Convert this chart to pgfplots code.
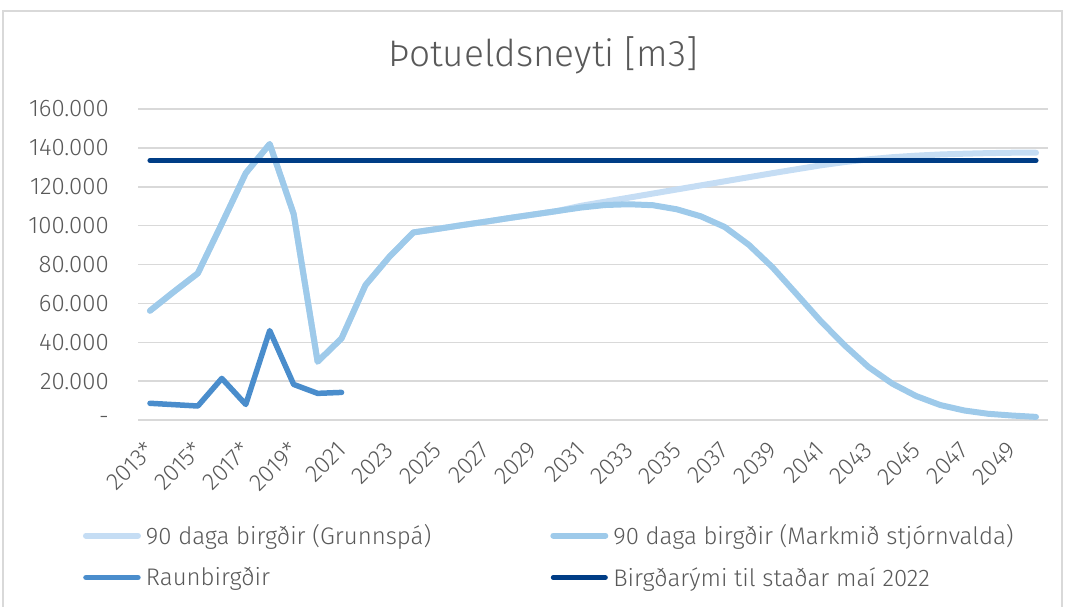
\documentclass[border=0pt]{standalone}
\usepackage{fontspec}
\setmainfont{Fira Sans}[UprightFont={* Light}]
\usepackage{pgfplots}
\pgfplotsset{compat=1.18}

\definecolor{grunn}{RGB}{197,221,244}
\definecolor{markmid}{RGB}{158,202,234}
\definecolor{raun}{RGB}{74,141,204}
\definecolor{rymi}{RGB}{0,61,134}
\definecolor{txt}{RGB}{89,89,89}
\definecolor{gridgray}{RGB}{217,217,217}

\begin{document}
\begin{tikzpicture}
\useasboundingbox (0pt,0pt) rectangle (1068pt,606pt);
\draw[gridgray, line width=1.5pt] (3pt,-5pt) -- (3pt,595pt) -- (1062pt,595pt) -- (1062pt,-5pt);
\node[text=txt, font=\fontsize{37}{40}\selectfont] at (543pt,551pt) {Þotueldsneyti [m3]};

\begin{axis}[
  at={(138pt,186pt)}, anchor=south west,
  scale only axis, width=910pt, height=311pt,
  xmin=2012.5, xmax=2050.5,
  ymin=0, ymax=160000,
  axis line style={draw=none},
  major tick length=0pt,
  ymajorgrids=true, xmajorgrids=false,
  grid style={gridgray, line width=1.5pt},
  ytick={0,20000,40000,60000,80000,100000,120000,140000,160000},
  yticklabels={-,20.000,40.000,60.000,80.000,100.000,120.000,140.000,160.000},
  scaled y ticks=false,
  xtick={2013,2015,...,2049},
  xticklabels={2013*,2015*,2017*,2019*,2021,2023,2025,2027,2029,2031,2033,2035,2037,2039,2041,2043,2045,2047,2049},
  tick label style={text=txt, font=\fontsize{24}{26}\selectfont},
  yticklabel style={anchor=east, inner sep=0pt},
  yticklabel shift=29pt,
  xticklabel style={rotate=45, anchor=east, inner sep=0pt},
  xticklabel shift=26pt,
  legend columns=2,
  legend cell align=left,
  legend style={at={(rel axis cs:-0.064,-0.33)}, anchor=north west,
    draw=none, fill=none, text=txt, font=\fontsize{24}{26}\selectfont,
    nodes={inner sep=0pt}, row sep=21pt,
    /tikz/every odd column/.append style={column sep=5pt},
    /tikz/every even column/.append style={column sep=119pt}},
  legend image code/.code={
    \path (0pt,0pt) -- (52pt,0pt);
    \draw[#1, line cap=round] (3pt,0pt) -- (49pt,0pt);},
  every axis plot/.append style={line join=round, line cap=round},
]
\addplot[grunn, line width=6pt] coordinates {
  (2013,56200)(2014,66000)(2015,75500)(2016,101000)(2017,127000)(2018,142000)
  (2019,106000)(2020,30000)(2021,42000)(2022,69400)(2023,84000)(2024,96500)
  (2025,98300)(2026,100200)(2027,102000)(2028,103900)(2029,105700)(2030,107500)
  (2031,110200)(2032,112300)(2033,114400)(2034,116500)(2035,118600)(2036,120700)
  (2037,122800)(2038,124900)(2039,127000)(2040,129000)(2041,131000)(2042,132700)
  (2043,134100)(2044,135200)(2045,136000)(2046,136600)(2047,137000)(2048,137300)
  (2049,137500)(2050,137500)};
\addlegendentry{90 daga birgðir (Grunnspá)}
\addplot[markmid, line width=6pt] coordinates {
  (2013,56200)(2014,66000)(2015,75500)(2016,101000)(2017,127000)(2018,142000)
  (2019,106000)(2020,30000)(2021,42000)(2022,69400)(2023,84000)(2024,96500)
  (2025,98300)(2026,100200)(2027,102000)(2028,103900)(2029,105700)(2030,107500)
  (2031,109300)(2032,110600)(2033,111000)(2034,110500)(2035,108400)(2036,104800)
  (2037,99300)(2038,90200)(2039,78500)(2040,64800)(2041,51000)(2042,38500)
  (2043,27300)(2044,18700)(2045,12300)(2046,7700)(2047,4900)(2048,3200)
  (2049,2300)(2050,1600)};
\addlegendentry{90 daga birgðir (Markmið stjórnvalda)}
\addplot[raun, line width=5.5pt] coordinates {
  (2013,8600)(2014,7900)(2015,7200)(2016,21400)(2017,8000)(2018,46000)
  (2019,18300)(2020,13700)(2021,14200)};
\addlegendentry{Raunbirgðir}
\addplot[rymi, line width=5pt] coordinates {(2013,133500)(2050,133500)};
\addlegendentry{Birgðarými til staðar maí 2022}
\end{axis}
\end{tikzpicture}
\end{document}
